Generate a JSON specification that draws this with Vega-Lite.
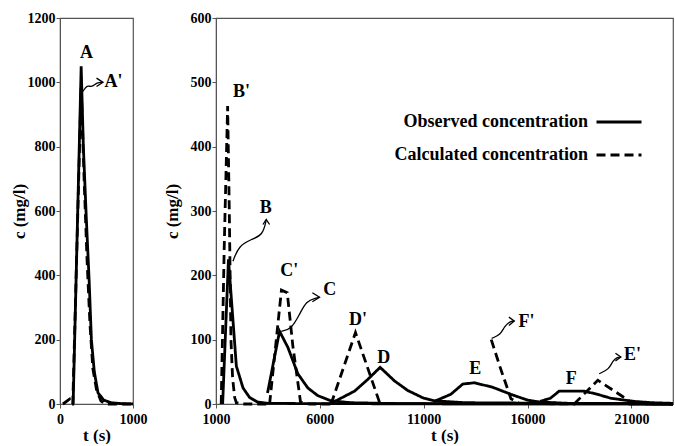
{
  "$schema": "https://vega.github.io/schema/vega-lite/v6.json",
  "padding": {"left": 9, "top": 10, "right": 0, "bottom": 0},
  "bounds": "flush",
  "spacing": 83,
  "background": "white",
  "resolve": {"legend": {"strokeDash": "independent"}},
  "config": {
    "font": "Liberation Serif",
    "view": {"stroke": "#555", "strokeWidth": 1.2},
    "axis": {
      "labelFont": "Liberation Serif", "labelFontWeight": "bold", "labelFontSize": 14, "labelColor": "black",
      "titleFont": "Liberation Serif", "titleFontWeight": "bold", "titleFontSize": 17, "titleColor": "black",
      "grid": false, "domainColor": "#555", "tickColor": "#555", "tickSize": 4, "labelFlush": false, "labelOverlap": false,
      "format": "d"
    },
    "text": {"font": "Liberation Serif", "fontWeight": "bold", "fontSize": 18, "color": "black"},
    "line": {"color": "black", "strokeWidth": 2.8}
  },
  "datasets": {
    "left": [
      {"t": 180, "c": 0, "curve": "A", "type": "Observed concentration"},
      {"t": 290, "c": 1050, "curve": "A", "type": "Observed concentration"},
      {"t": 320, "c": 800, "curve": "A", "type": "Observed concentration"},
      {"t": 360, "c": 580, "curve": "A", "type": "Observed concentration"},
      {"t": 400, "c": 380, "curve": "A", "type": "Observed concentration"},
      {"t": 430, "c": 200, "curve": "A", "type": "Observed concentration"},
      {"t": 470, "c": 100, "curve": "A", "type": "Observed concentration"},
      {"t": 520, "c": 35, "curve": "A", "type": "Observed concentration"},
      {"t": 600, "c": 12, "curve": "A", "type": "Observed concentration"},
      {"t": 700, "c": 4, "curve": "A", "type": "Observed concentration"},
      {"t": 850, "c": 1, "curve": "A", "type": "Observed concentration"},
      {"t": 1000, "c": 0, "curve": "A", "type": "Observed concentration"},
      {"t": 40, "c": 0, "curve": "A'", "type": "Calculated concentration"},
      {"t": 130, "c": 15, "curve": "A'", "type": "Calculated concentration"},
      {"t": 155, "c": 0, "curve": "A'", "type": "Calculated concentration"},
      {"t": 175, "c": 0, "curve": "A'", "type": "Calculated concentration"},
      {"t": 290, "c": 990, "curve": "A'", "type": "Calculated concentration"},
      {"t": 330, "c": 700, "curve": "A'", "type": "Calculated concentration"},
      {"t": 370, "c": 450, "curve": "A'", "type": "Calculated concentration"},
      {"t": 410, "c": 250, "curve": "A'", "type": "Calculated concentration"},
      {"t": 450, "c": 110, "curve": "A'", "type": "Calculated concentration"},
      {"t": 500, "c": 45, "curve": "A'", "type": "Calculated concentration"},
      {"t": 560, "c": 10, "curve": "A'", "type": "Calculated concentration"},
      {"t": 620, "c": 0, "curve": "A'", "type": "Calculated concentration"},
      {"t": 1000, "c": 0, "curve": "A'", "type": "Calculated concentration"}
    ],
    "right": [
      {"t": 1320, "c": 0, "curve": "B", "type": "Observed concentration"},
      {"t": 1600, "c": 225, "curve": "B", "type": "Observed concentration"},
      {"t": 1980, "c": 59, "curve": "B", "type": "Observed concentration"},
      {"t": 2300, "c": 25, "curve": "B", "type": "Observed concentration"},
      {"t": 2620, "c": 10, "curve": "B", "type": "Observed concentration"},
      {"t": 3000, "c": 3, "curve": "B", "type": "Observed concentration"},
      {"t": 3500, "c": 1, "curve": "B", "type": "Observed concentration"},
      {"t": 6000, "c": 0.5, "curve": "B", "type": "Observed concentration"},
      {"t": 23000, "c": 0, "curve": "B", "type": "Observed concentration"},
      {"t": 3480, "c": 17, "curve": "C", "type": "Observed concentration"},
      {"t": 4060, "c": 113, "curve": "C", "type": "Observed concentration"},
      {"t": 4460, "c": 88, "curve": "C", "type": "Observed concentration"},
      {"t": 4940, "c": 47, "curve": "C", "type": "Observed concentration"},
      {"t": 5420, "c": 25, "curve": "C", "type": "Observed concentration"},
      {"t": 5900, "c": 13, "curve": "C", "type": "Observed concentration"},
      {"t": 6530, "c": 5, "curve": "C", "type": "Observed concentration"},
      {"t": 7500, "c": 2, "curve": "C", "type": "Observed concentration"},
      {"t": 10000, "c": 0.5, "curve": "C", "type": "Observed concentration"},
      {"t": 23000, "c": 0, "curve": "C", "type": "Observed concentration"},
      {"t": 6600, "c": 2, "curve": "D", "type": "Observed concentration"},
      {"t": 7670, "c": 20, "curve": "D", "type": "Observed concentration"},
      {"t": 8300, "c": 38, "curve": "D", "type": "Observed concentration"},
      {"t": 8900, "c": 57, "curve": "D", "type": "Observed concentration"},
      {"t": 9590, "c": 36, "curve": "D", "type": "Observed concentration"},
      {"t": 10230, "c": 21, "curve": "D", "type": "Observed concentration"},
      {"t": 11000, "c": 9, "curve": "D", "type": "Observed concentration"},
      {"t": 11500, "c": 5, "curve": "D", "type": "Observed concentration"},
      {"t": 13000, "c": 2, "curve": "D", "type": "Observed concentration"},
      {"t": 23000, "c": 0, "curve": "D", "type": "Observed concentration"},
      {"t": 11500, "c": 4, "curve": "E", "type": "Observed concentration"},
      {"t": 12300, "c": 15, "curve": "E", "type": "Observed concentration"},
      {"t": 12880, "c": 31, "curve": "E", "type": "Observed concentration"},
      {"t": 13440, "c": 33, "curve": "E", "type": "Observed concentration"},
      {"t": 14320, "c": 26, "curve": "E", "type": "Observed concentration"},
      {"t": 15200, "c": 15, "curve": "E", "type": "Observed concentration"},
      {"t": 16000, "c": 6, "curve": "E", "type": "Observed concentration"},
      {"t": 16600, "c": 3, "curve": "E", "type": "Observed concentration"},
      {"t": 18000, "c": 1, "curve": "E", "type": "Observed concentration"},
      {"t": 23000, "c": 0, "curve": "E", "type": "Observed concentration"},
      {"t": 16600, "c": 4, "curve": "F", "type": "Observed concentration"},
      {"t": 17100, "c": 9, "curve": "F", "type": "Observed concentration"},
      {"t": 17520, "c": 20, "curve": "F", "type": "Observed concentration"},
      {"t": 18720, "c": 20, "curve": "F", "type": "Observed concentration"},
      {"t": 19370, "c": 15, "curve": "F", "type": "Observed concentration"},
      {"t": 20000, "c": 9, "curve": "F", "type": "Observed concentration"},
      {"t": 21130, "c": 4, "curve": "F", "type": "Observed concentration"},
      {"t": 22000, "c": 2, "curve": "F", "type": "Observed concentration"},
      {"t": 23000, "c": 1, "curve": "F", "type": "Observed concentration"},
      {"t": 1250, "c": 0, "curve": "B'", "type": "Calculated concentration"},
      {"t": 1400, "c": 250, "curve": "B'", "type": "Calculated concentration"},
      {"t": 1560, "c": 463, "curve": "B'", "type": "Calculated concentration"},
      {"t": 1640, "c": 300, "curve": "B'", "type": "Calculated concentration"},
      {"t": 1720, "c": 100, "curve": "B'", "type": "Calculated concentration"},
      {"t": 1800, "c": 40, "curve": "B'", "type": "Calculated concentration"},
      {"t": 1900, "c": 10, "curve": "B'", "type": "Calculated concentration"},
      {"t": 1980, "c": 2, "curve": "B'", "type": "Calculated concentration"},
      {"t": 2300, "c": 0, "curve": "B'", "type": "Calculated concentration"},
      {"t": 3500, "c": 0, "curve": "B'", "type": "Calculated concentration"},
      {"t": 3580, "c": 0, "curve": "C'", "type": "Calculated concentration"},
      {"t": 4150, "c": 177, "curve": "C'", "type": "Calculated concentration"},
      {"t": 4430, "c": 173, "curve": "C'", "type": "Calculated concentration"},
      {"t": 4700, "c": 90, "curve": "C'", "type": "Calculated concentration"},
      {"t": 5070, "c": 3, "curve": "C'", "type": "Calculated concentration"},
      {"t": 5500, "c": 0, "curve": "C'", "type": "Calculated concentration"},
      {"t": 6500, "c": 0, "curve": "C'", "type": "Calculated concentration"},
      {"t": 6540, "c": 0, "curve": "D'", "type": "Calculated concentration"},
      {"t": 7715, "c": 111, "curve": "D'", "type": "Calculated concentration"},
      {"t": 8900, "c": 0, "curve": "D'", "type": "Calculated concentration"},
      {"t": 14250, "c": 100, "curve": "F'", "type": "Calculated concentration"},
      {"t": 14700, "c": 55, "curve": "F'", "type": "Calculated concentration"},
      {"t": 15200, "c": 8, "curve": "F'", "type": "Calculated concentration"},
      {"t": 15600, "c": 1, "curve": "F'", "type": "Calculated concentration"},
      {"t": 18300, "c": 0, "curve": "F'", "type": "Calculated concentration"},
      {"t": 18240, "c": 0, "curve": "E'", "type": "Calculated concentration"},
      {"t": 19380, "c": 37, "curve": "E'", "type": "Calculated concentration"},
      {"t": 20650, "c": 10, "curve": "E'", "type": "Calculated concentration"},
      {"t": 21100, "c": 0, "curve": "E'", "type": "Calculated concentration"}
    ],
    "leftLabels": [
      {"t": 363, "c": 1090, "label": "A"},
      {"t": 733, "c": 1000, "label": "A'"}
    ],
    "leftArrows": [
      {"t": 315, "c": 972, "id": "A'", "i": 0},
      {"t": 370, "c": 992, "id": "A'", "i": 1},
      {"t": 438, "c": 984, "id": "A'", "i": 2},
      {"t": 507, "c": 1000, "id": "A'", "i": 3},
      {"t": 585, "c": 1000, "id": "A'", "i": 4}
    ],
    "leftHeads": [
      {"t": 500, "c": 1013, "id": "A'", "i": 0},
      {"t": 589, "c": 1000, "id": "A'", "i": 1},
      {"t": 500, "c": 987, "id": "A'", "i": 2}
    ],
    "rightLabels": [
      {"t": 2225, "c": 485, "label": "B'"},
      {"t": 3400, "c": 305, "label": "B"},
      {"t": 4530, "c": 207, "label": "C'"},
      {"t": 6480, "c": 177, "label": "C"},
      {"t": 7830, "c": 131, "label": "D'"},
      {"t": 9070, "c": 71, "label": "D"},
      {"t": 13475, "c": 55, "label": "E"},
      {"t": 18100, "c": 39, "label": "F"},
      {"t": 15950, "c": 127, "label": "F'"},
      {"t": 21050, "c": 76, "label": "E'"}
    ],
    "rightArrows": [
      {"t": 1817, "c": 222, "id": "B", "i": 0},
      {"t": 2100, "c": 246, "id": "B", "i": 1},
      {"t": 2697, "c": 256, "id": "B", "i": 2},
      {"t": 3250, "c": 262, "id": "B", "i": 3},
      {"t": 3418, "c": 286, "id": "B", "i": 4},
      {"t": 4140, "c": 113, "id": "C", "i": 0},
      {"t": 4620, "c": 116, "id": "C", "i": 1},
      {"t": 5020, "c": 139, "id": "C", "i": 2},
      {"t": 5340, "c": 160, "id": "C", "i": 3},
      {"t": 5820, "c": 165, "id": "C", "i": 4},
      {"t": 5985, "c": 166, "id": "C", "i": 5},
      {"t": 14270, "c": 102, "id": "F'", "i": 0},
      {"t": 14715, "c": 108, "id": "F'", "i": 1},
      {"t": 14880, "c": 121, "id": "F'", "i": 2},
      {"t": 15200, "c": 129, "id": "F'", "i": 3},
      {"t": 15360, "c": 129, "id": "F'", "i": 4},
      {"t": 19445, "c": 47, "id": "E'", "i": 0},
      {"t": 19925, "c": 54, "id": "E'", "i": 1},
      {"t": 20090, "c": 67, "id": "E'", "i": 2},
      {"t": 20330, "c": 73, "id": "E'", "i": 3},
      {"t": 20490, "c": 73, "id": "E'", "i": 4}
    ],
    "rightHeads": [
      {"t": 3260, "c": 279, "id": "B", "i": 0},
      {"t": 3418, "c": 287, "id": "B", "i": 1},
      {"t": 3580, "c": 279, "id": "B", "i": 2},
      {"t": 5640, "c": 173, "id": "C", "i": 0},
      {"t": 5985, "c": 166, "id": "C", "i": 1},
      {"t": 5640, "c": 159, "id": "C", "i": 2},
      {"t": 15100, "c": 135, "id": "F'", "i": 0},
      {"t": 15360, "c": 129, "id": "F'", "i": 1},
      {"t": 15100, "c": 122, "id": "F'", "i": 2},
      {"t": 20230, "c": 79, "id": "E'", "i": 0},
      {"t": 20490, "c": 73, "id": "E'", "i": 1},
      {"t": 20230, "c": 67, "id": "E'", "i": 2}
    ]
  },
  "hconcat": [
    {
      "width": 73,
      "height": 386,
      "layer": [
        {
          "data": {"name": "left"},
          "mark": {"type": "line"},
          "encoding": {
            "x": {"field": "t", "type": "quantitative", "scale": {"domain": [0, 1000], "nice": false},
                  "axis": {"title": "t (s)", "values": [0, 1000], "titlePadding": 1, "labelPadding": 4}},
            "y": {"field": "c", "type": "quantitative", "scale": {"domain": [0, 1200], "nice": false},
                  "axis": {"title": "c (mg/l)", "values": [0, 200, 400, 600, 800, 1000, 1200], "titlePadding": -1, "labelPadding": 1}},
            "detail": {"field": "curve"},
            "strokeDash": {"field": "type", "type": "nominal",
              "scale": {"domain": ["Observed concentration", "Calculated concentration"], "range": [[1, 0], [9, 5]]},
              "legend": null}
          }
        },
        {
          "data": {"name": "leftArrows"},
          "mark": {"type": "line", "interpolate": "basis", "strokeWidth": 1.3},
          "encoding": {
            "x": {"field": "t", "type": "quantitative"},
            "y": {"field": "c", "type": "quantitative"},
            "detail": {"field": "id"},
            "order": {"field": "i"}
          }
        },
        {
          "data": {"name": "leftHeads"},
          "mark": {"type": "line", "strokeWidth": 1.3},
          "encoding": {
            "x": {"field": "t", "type": "quantitative"},
            "y": {"field": "c", "type": "quantitative"},
            "detail": {"field": "id"},
            "order": {"field": "i"}
          }
        },
        {
          "data": {"name": "leftLabels"},
          "mark": {"type": "text", "align": "center", "baseline": "middle"},
          "encoding": {
            "x": {"field": "t", "type": "quantitative"},
            "y": {"field": "c", "type": "quantitative"},
            "text": {"field": "label"}
          }
        }
      ]
    },
    {
      "width": 457,
      "height": 386,
      "layer": [
        {
          "data": {"name": "right"},
          "mark": {"type": "line"},
          "encoding": {
            "x": {"field": "t", "type": "quantitative", "scale": {"domain": [1000, 23000], "nice": false},
                  "axis": {"title": "t (s)", "values": [1000, 6000, 11000, 16000, 21000], "titlePadding": 1, "labelPadding": 4}},
            "y": {"field": "c", "type": "quantitative", "scale": {"domain": [0, 600], "nice": false},
                  "axis": {"title": "c (mg/l)", "values": [0, 100, 200, 300, 400, 500, 600], "titlePadding": 9, "labelPadding": 1}},
            "detail": {"field": "curve"},
            "strokeDash": {"field": "type", "type": "nominal",
              "scale": {"domain": ["Observed concentration", "Calculated concentration"], "range": [[1, 0], [9, 5]]},
              "legend": {"title": null, "orient": "none", "legendX": 379, "legendY": 80,
                "symbolType": "stroke", "symbolSize": 2025, "symbolStrokeWidth": 3, "symbolStrokeColor": "black",
                "labelFont": "Liberation Serif", "labelFontWeight": "bold", "labelFontSize": 18, "labelColor": "black",
                "labelAlign": "right", "labelOffset": -55, "rowPadding": -14, "labelLimit": 400}}
          }
        },
        {
          "data": {"name": "rightArrows"},
          "mark": {"type": "line", "interpolate": "basis", "strokeWidth": 1.3},
          "encoding": {
            "x": {"field": "t", "type": "quantitative"},
            "y": {"field": "c", "type": "quantitative"},
            "detail": {"field": "id"},
            "order": {"field": "i"}
          }
        },
        {
          "data": {"name": "rightHeads"},
          "mark": {"type": "line", "strokeWidth": 1.3},
          "encoding": {
            "x": {"field": "t", "type": "quantitative"},
            "y": {"field": "c", "type": "quantitative"},
            "detail": {"field": "id"},
            "order": {"field": "i"}
          }
        },
        {
          "data": {"name": "rightLabels"},
          "mark": {"type": "text", "align": "center", "baseline": "middle"},
          "encoding": {
            "x": {"field": "t", "type": "quantitative"},
            "y": {"field": "c", "type": "quantitative"},
            "text": {"field": "label"}
          }
        }
      ]
    }
  ]
}
